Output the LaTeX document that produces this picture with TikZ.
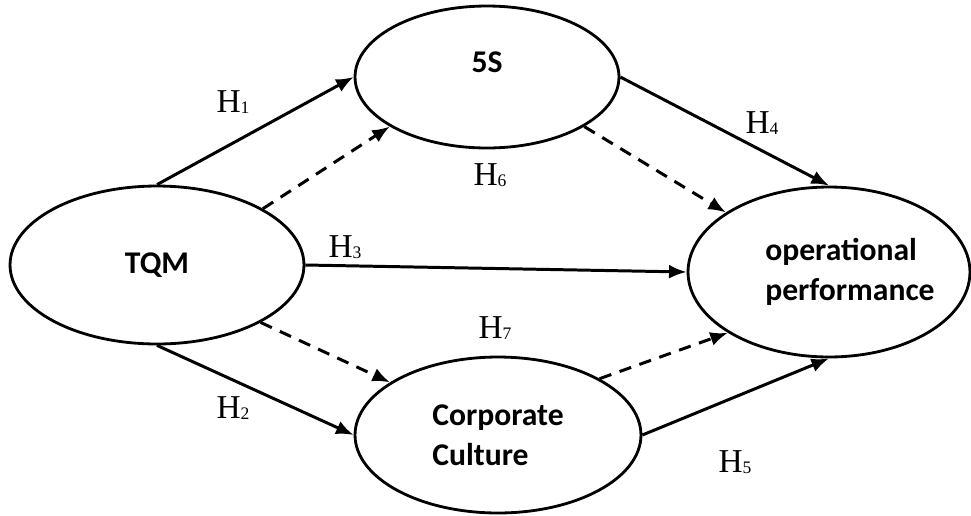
\documentclass[tikz,border=0pt]{standalone}
\usepackage{fontspec}
\setmainfont{Liberation Serif}
\newfontfamily\boxfont{Carlito}
\usetikzlibrary{shapes.geometric,arrows.meta}
\newcommand{\hyp}[1]{H\raisebox{-0.5pt}{\fontsize{10}{10}\selectfont #1}}

\tikzset{
  construct/.style={draw, ellipse, line width=1.6pt, inner sep=0pt, align=left,
                    font=\boxfont\bfseries\fontsize{18}{23}\selectfont},
  path/.style={line width=1.7pt, -{Latex[length=10pt,width=8pt]}},
  mediated/.style={path, dash pattern=on 7pt off 5pt},
  hlabel/.style={font=\fontsize{19}{19}\selectfont}
}

\begin{document}
\begin{tikzpicture}[x=0.02cm, y=-0.02cm]
                \useasboundingbox (0,0) rectangle (971,515);

                \node[construct, minimum width=5.88cm, minimum height=3.16cm] (tqm) at (157,265) {TQM};
                \node[construct, minimum width=5.28cm, minimum height=2.84cm,
                      label={[construct, draw=none, yshift=0.3cm]center:5S}] (s) at (487,77) {};
                \node[construct, minimum width=5.72cm, minimum height=3.12cm] (cc) at (498,435) {Corporate\\Culture};
                \node[construct, minimum width=5.64cm, minimum height=3.4cm,
                      label={[construct, draw=none, xshift=0.42cm]center:operational\\performance}] (op) at (829,272) {};

                % direct paths
                \draw[path] (tqm.north) -- (s.west);
                \draw[path] (tqm.south) -- (cc.west);
                \draw[path] (tqm.east) -- (op.west);
                \draw[path] (s.east) -- (op.north);
                \draw[path] (cc.east) -- (op.south);

                % mediated paths
                \draw[mediated] (tqm.28) -- (s.207);
                \draw[mediated] (s.333) -- (op.150);
                \draw[mediated] (tqm.331) -- (cc.154);
                \draw[mediated] (cc.29) -- (op.211);

                \node[hlabel] (h1) at (233,102) {\hyp{1}};
                \node[hlabel] (h2) at (233,408) {\hyp{2}};
                \node[hlabel] (h3) at (345,247) {\hyp{3}};
                \node[hlabel] (h4) at (762,123) {\hyp{4}};
                \node[hlabel] (h5) at (735,462) {\hyp{5}};
                \node[hlabel] (h6) at (490,175) {\hyp{6}};
                \node[hlabel] (h7) at (495,328) {\hyp{7}};
            \end{tikzpicture}
\end{document}
